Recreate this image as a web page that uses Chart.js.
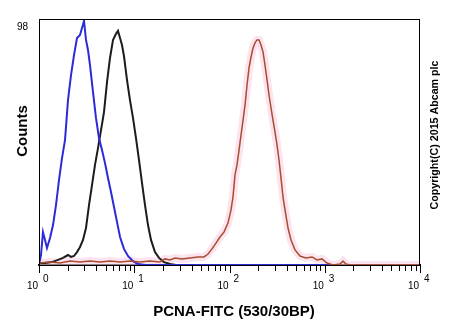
<!DOCTYPE html>
<html>
<head>
<meta charset="utf-8">
<script src="https://cdn.jsdelivr.net/npm/chart.js@4"></script>
<style>
  html, body { margin: 0; padding: 0; background: #fff; }
</style>
</head>
<body>
<canvas id="histo" width="450" height="330"></canvas>
<script>
// FITC intensity (linear units) and event counts for each histogram
const blueX = [1, 1.049, 1.101, 1.156, 1.213, 1.305, 1.403, 1.508, 1.622, 1.744, 1.875, 2.016, 2.168, 2.331, 2.506, 2.695, 2.828, 2.969, 3.114, 3.269, 3.431, 3.69, 3.964, 4.264, 4.585, 4.93, 5.302, 5.7, 6.13, 6.59, 7.09, 7.8, 8.59, 9.7, 10.94, 12.97, 1200];
const blueY = [0, 4.1, 13.5, 10.3, 7.0, 11.1, 16.4, 24.6, 34.9, 43.9, 51.3, 67.7, 78.0, 86.2, 93.2, 94.4, 97.3, 100.2, 92.4, 88.3, 82.1, 71.0, 60.4, 52.1, 47.2, 41.9, 35.7, 30.0, 23.8, 17.7, 11.5, 6.6, 3.7, 1.6, 0.4, 0, 0];

const blackX = [1, 1.156, 1.369, 1.582, 1.786, 2.016, 2.168, 2.331, 2.506, 2.695, 2.897, 3.114, 3.35, 3.601, 3.872, 4.163, 4.477, 4.813, 5.176, 5.565, 5.984, 6.43, 6.75, 7.09, 7.435, 7.8, 8.39, 9.02, 9.7, 10.43, 11.22, 12.06, 12.97, 13.94, 14.99, 16.51, 18.2, 20.5, 23.7, 27.4, 1200];
const blackY = [0.8, 0.8, 1.2, 2.1, 2.9, 4.1, 3.3, 3.7, 5.3, 7.4, 10.3, 15.2, 24.6, 32.8, 41.1, 48.0, 55.4, 62.8, 75.1, 85.0, 92.4, 94.9, 96.1, 93.2, 90.3, 85.8, 76.0, 67.7, 60.4, 52.1, 43.1, 33.7, 24.6, 16.4, 10.3, 5.3, 2.9, 1.2, 0.4, 0, 0];

const redX = [1, 1.305, 1.662, 2.116, 2.695, 3.431, 4.37, 5.565, 7.09, 9.02, 11.5, 14.6, 18.6, 21.0, 23.7, 26.8, 31.7, 38.5, 46.7, 54.0, 59.5, 65.5, 72.1, 79.4, 87.5, 96.4, 103.7, 108.8, 114.2, 119.9, 125.9, 132.2, 138.7, 145.6, 152.8, 160.3, 168.3, 176.6, 185.3, 194.5, 204.1, 214.2, 224.8, 235.9, 247.6, 259.9, 272.7, 286.2, 300.4, 315.3, 331, 347.4, 364.6, 382.6, 411.5, 442.5, 487.3, 549.5, 635.5, 735, 829, 935, 1056, 1221, 1446, 1555, 1671, 1841, 10000];
const redY = [0.8, 1.2, 0.8, 1.6, 1.2, 1.6, 1.2, 1.6, 1.2, 1.6, 1.2, 1.6, 1.2, 2.5, 2.1, 2.9, 2.5, 2.9, 3.3, 3.3, 4.5, 6.6, 9.0, 11.5, 13.5, 17.2, 22.6, 27.9, 37.0, 41.1, 47.2, 53.4, 59.5, 65.7, 73.9, 80.9, 85.4, 89.1, 91.2, 92.4, 92.4, 90.3, 87.5, 82.1, 76.0, 69.8, 64.5, 59.5, 54.6, 49.3, 43.1, 35.7, 27.9, 22.6, 15.2, 10.3, 6.2, 3.7, 2.9, 3.3, 2.1, 2.5, 0.8, 0, 0.4, 1.6, 0.4, 0, 0];

// axis labelling
const decadeExponents = [0, 1, 2, 3, 4];
const countTicks = [98];
const xTitle = "PCNA-FITC (530/30BP)";
const yTitle = "Counts";
const copyright = "Copyright(C) 2015 Abcam plc";

const toPoints = (xs, ys) => xs.map((x, i) => ({ x, y: ys[i] }));

// minor + major tick positions: 1..9 in every decade
const xTickValues = [];
decadeExponents.forEach((e) => {
  if (e === decadeExponents[decadeExponents.length - 1]) {
    xTickValues.push(Math.pow(10, e));
    return;
  }
  for (let s = 1; s <= 9; s++) xTickValues.push(s * Math.pow(10, e));
});

const decadeTicks = decadeExponents.map((e) => Math.pow(10, e));

const textPlugin = {
  id: "histoText",
  afterDraw(chart) {
    const { ctx, chartArea, scales } = chart;
    ctx.save();

    // box around the plot
    ctx.strokeStyle = "#000";
    ctx.lineWidth = 1;
    ctx.strokeRect(chartArea.left + 0.5, chartArea.top + 0.5,
      chartArea.right - chartArea.left - 1, chartArea.bottom - chartArea.top);

    // tick marks under the x axis, longer on each decade
    ctx.strokeStyle = "#000";
    ctx.lineWidth = 1;
    xTickValues.forEach((v) => {
      const px = Math.round(scales.x.getPixelForValue(v)) + 0.5;
      const len = decadeTicks.includes(v) ? 8 : 6;
      ctx.beginPath();
      ctx.moveTo(px, chartArea.bottom);
      ctx.lineTo(px, chartArea.bottom + len);
      ctx.stroke();
    });

    ctx.fillStyle = "#000";
    ctx.textBaseline = "alphabetic";

    // count label on the y axis
    ctx.font = '10px "Liberation Sans", Arial, sans-serif';
    ctx.textAlign = "right";
    countTicks.forEach((v) => {
      ctx.fillText(String(v), 28, scales.y.getPixelForValue(v) + 4);
    });

    // 10^n decade labels
    decadeExponents.forEach((e) => {
      const px = scales.x.getPixelForValue(Math.pow(10, e));
      ctx.textAlign = "right";
      ctx.fillText("10", px - 1, 289);
      ctx.textAlign = "left";
      ctx.fillText(String(e), px + 4, 282);
    });

    // axis titles
    ctx.font = 'bold 15px "Liberation Sans", Arial, sans-serif';
    ctx.textAlign = "center";
    ctx.textBaseline = "middle";
    ctx.fillText(xTitle, 234, 312);

    ctx.save();
    ctx.translate(23, 131);
    ctx.rotate(-Math.PI / 2);
    ctx.fillText(yTitle, 0, 0);
    ctx.restore();

    ctx.save();
    ctx.font = 'bold 10.7px "Liberation Sans", Arial, sans-serif';
    ctx.translate(435, 135);
    ctx.rotate(-Math.PI / 2);
    ctx.fillText(copyright, 0, 0);
    ctx.restore();

    ctx.restore();
  },
};

new Chart(document.getElementById("histo"), {
  type: "line",
  data: {
    datasets: [
      {
        label: "PCNA",
        data: toPoints(redX, redY),
        borderColor: "#a84e2e",
        borderWidth: 1.5,
      },
      {
        label: "Isotype",
        data: toPoints(blueX, blueY),
        borderColor: "#2b2bd8",
        borderWidth: 2,
      },
      {
        label: "Unlabelled",
        data: toPoints(blackX, blackY),
        borderColor: "#1c1c1c",
        borderWidth: 2,
      },
      {
        // soft pink halo under the PCNA trace
        label: "PCNA halo",
        data: toPoints(redX, redY),
        borderColor: "rgba(250, 208, 230, 0.6)",
        borderWidth: 8,
      },
    ],
  },
  options: {
    responsive: false,
    animation: false,
    devicePixelRatio: 1,
    layout: { padding: { left: 39, right: 30, top: 19, bottom: 65 } },
    elements: {
      point: { radius: 0 },
      line: { tension: 0, fill: false },
    },
    plugins: {
      legend: { display: false },
      tooltip: { enabled: false },
    },
    scales: {
      x: {
        type: "logarithmic",
        min: 1,
        max: 10000,
        afterFit: (scale) => { scale.height = 0; },
        ticks: { display: false },
        grid: { display: false, drawTicks: false },
        border: { display: true, color: "#000", width: 2 },
      },
      y: {
        type: "linear",
        min: 0,
        max: 101,
        afterFit: (scale) => { scale.width = 0; },
        ticks: { display: false },
        grid: { display: false, drawTicks: false },
        border: { display: true, color: "#000", width: 1 },
      },
    },
  },
  plugins: [textPlugin],
});
</script>
</body>
</html>
